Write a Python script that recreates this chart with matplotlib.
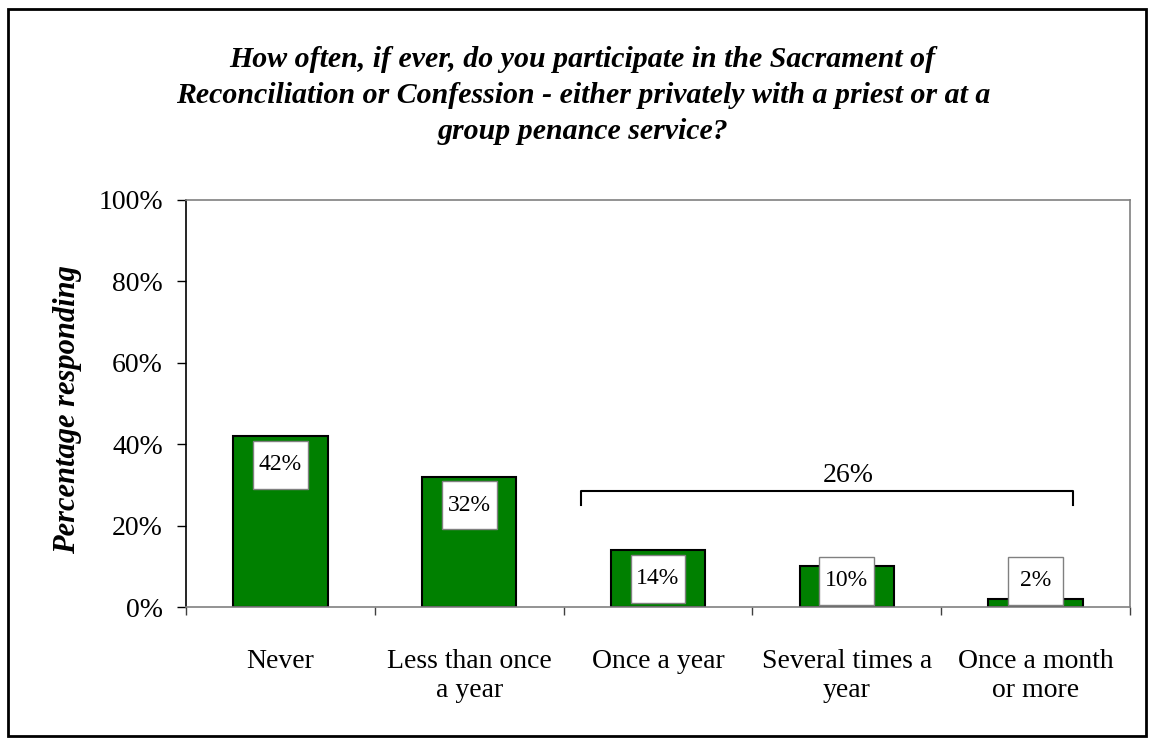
import numpy as np
import matplotlib
matplotlib.use('Agg')
import matplotlib.pyplot as plt
from matplotlib.patches import Rectangle

# survey data
categories = ['Never', 'Less than once\na year', 'Once a year',
              'Several times a\nyear', 'Once a month\nor more']
values = [42, 32, 14, 10, 2]
value_labels = ['42%', '32%', '14%', '10%', '2%']
group_label = '26%'
group_idx = [2, 3, 4]

title = ('How often, if ever, do you participate in the Sacrament of\n'
         'Reconciliation or Confession - either privately with a priest or at a\n'
         'group penance service?')

plt.rcParams['font.family'] = ['Liberation Serif', 'DejaVu Serif']

fig = plt.figure(figsize=(11.54, 7.44), dpi=100)
ax = fig.add_axes([0.1612, 0.1841, 0.818, 0.5471])

x = np.arange(len(categories))
ax.bar(x, values, width=0.5, color='#008000', edgecolor='black', linewidth=1.5, zorder=2)

# white label boxes near the top of each bar
box_w, box_h = 0.29, 11.8
for xi, v, lab in zip(x, values, value_labels):
    yc = max(v - 7, 6.4)
    ax.add_patch(Rectangle((xi - box_w / 2, yc - box_h / 2), box_w, box_h,
                           facecolor='white', edgecolor='#808080', linewidth=1, zorder=3))
    ax.text(xi, yc, lab, ha='center', va='center', fontsize=17, zorder=4)

# bracket over the last three categories
bx0, bx1 = group_idx[0] - 0.41, group_idx[-1] + 0.2
ax.plot([bx0, bx0, bx1, bx1], [25, 28.5, 28.5, 25], color='black', lw=1.5, zorder=2)
ax.text(group_idx[1] + 0.01, 32.3, group_label, ha='center', va='center', fontsize=20)

ax.set_xlim(-0.5, len(categories) - 0.5)
ax.set_ylim(0, 100)
ax.set_yticks(range(0, 101, 20))
ax.set_yticklabels([f'{t}%' for t in range(0, 101, 20)], fontsize=20)
ax.tick_params(axis='y', length=6.5, width=1, pad=10, color='black')

ax.set_xticks(x)
ax.set_xticklabels(categories, fontsize=20, linespacing=1.25)
ax.set_xticks(np.arange(len(categories) + 1) - 0.5, minor=True)
ax.tick_params(axis='x', which='major', length=0, pad=30)
ax.tick_params(axis='x', which='minor', length=6, width=1, color='#404040')

for side in ['top', 'right', 'bottom']:
    ax.spines[side].set_color('#808080')
    ax.spines[side].set_linewidth(1.2)
ax.spines['left'].set_color('black')
ax.spines['left'].set_linewidth(1.2)

ax.set_ylabel('Percentage responding', fontsize=22, fontweight='bold', style='italic')
ax.yaxis.set_label_coords(-0.110, 0.484)

fig.text(0.505, 0.872, title, ha='center', va='center', fontsize=21.5,
         fontweight='bold', style='italic', linespacing=1.42)

# outer frame around the whole chart
fig.patches.append(Rectangle((0.007, 0.011), 0.986, 0.977, transform=fig.transFigure,
                             fill=False, edgecolor='black', linewidth=2))

fig.savefig('out.png', dpi=100)
